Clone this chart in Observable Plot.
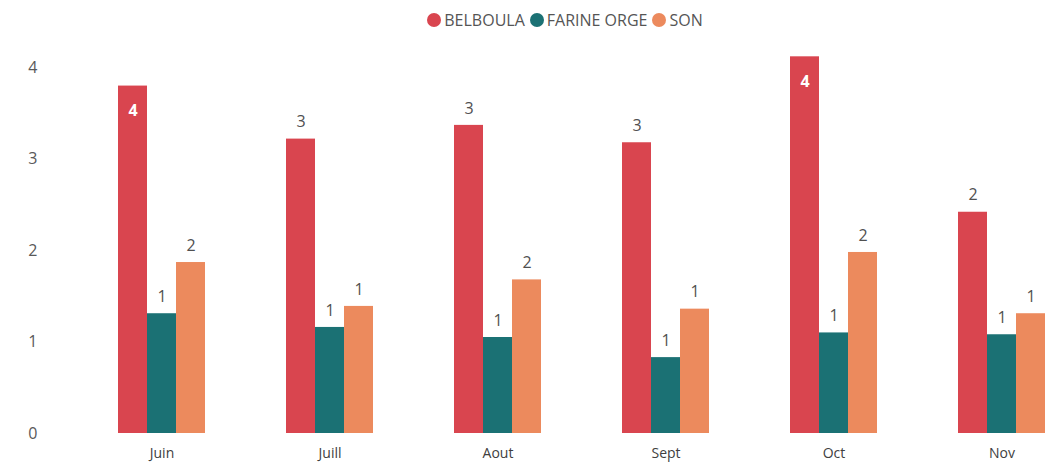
<!DOCTYPE html>
<html>
<head>
<meta charset="utf-8">
<script src="https://cdn.jsdelivr.net/npm/d3@7"></script>
<script src="https://cdn.jsdelivr.net/npm/@observablehq/plot@0.6"></script>
<style>
  body { margin: 0; background: #fff; font-family: "Open Sans", sans-serif; }
  #legend { height: 40px; display: flex; align-items: center; justify-content: center; padding-left: 79px; box-sizing: border-box; font-size: 16px; color: #555; }
  #legend span.item { display: inline-flex; align-items: center; margin-right: 5px; }
  #legend span.dot { width: 14px; height: 14px; border-radius: 50%; display: inline-block; margin-right: 3px; }
</style>
</head>
<body>
<div id="legend"></div>
<div id="chart"></div>
<script>
const months = ["Juin", "Juill", "Aout", "Sept", "Oct", "Nov"];
const seriesNames = ["BELBOULA", "FARINE ORGE", "SON"];
const belboula = [3.80, 3.22, 3.37, 3.18, 4.12, 2.42];
const farineOrge = [1.31, 1.16, 1.05, 0.83, 1.10, 1.08];
const son = [1.87, 1.39, 1.68, 1.36, 1.98, 1.31];
const colors = ["#d9454f", "#1b7174", "#ec8a5d"];
const yTicks = [0, 1, 2, 3, 4];

const seriesValues = [belboula, farineOrge, son];
const data = [];
months.forEach((m, i) => {
  seriesNames.forEach((s, j) => {
    data.push({month: m, series: s, value: seriesValues[j][i]});
  });
});
const inside = data.filter(d => d.value > 3.5);
const outside = data.filter(d => d.value <= 3.5);

const legend = document.getElementById("legend");
seriesNames.forEach((s, j) => {
  const it = document.createElement("span");
  it.className = "item";
  it.innerHTML = `<span class="dot" style="background:${colors[j]}"></span>${s}`;
  legend.appendChild(it);
});

const chart = Plot.plot({
  width: 1056,
  height: 425,
  marginLeft: 117,
  marginRight: 10,
  marginTop: 9,
  marginBottom: 32,
  style: {fontFamily: "Open Sans, sans-serif", background: "#fff"},
  fx: {domain: months, paddingInner: 0.484, paddingOuter: 0, label: null, axis: null},
  x: {domain: seriesNames, padding: 0, axis: null},
  y: {domain: [0, 4.2], axis: null},
  color: {domain: seriesNames, range: colors},
  marks: [
    Plot.text(yTicks, {fx: () => months[0], y: d => d, text: d => String(d), frameAnchor: "left", dx: -81, textAnchor: "end", fontSize: 16, fill: "#595959"}),
    Plot.axisFx({anchor: "bottom", tickSize: 0, tickPadding: 15, fontSize: 14, fill: "#404040", label: null}),
    Plot.barY(data, {fx: "month", x: "series", y: "value", fill: "series"}),
    Plot.text(outside, {fx: "month", x: "series", y: "value", text: d => String(Math.round(d.value)), dy: -17, fontSize: 16, fill: "#505050"}),
    Plot.text(inside, {fx: "month", x: "series", y: "value", text: d => String(Math.round(d.value)), dy: 25, fontSize: 16, fontWeight: "bold", fill: "#fff"})
  ]
});
document.getElementById("chart").appendChild(chart);
</script>
</body>
</html>
